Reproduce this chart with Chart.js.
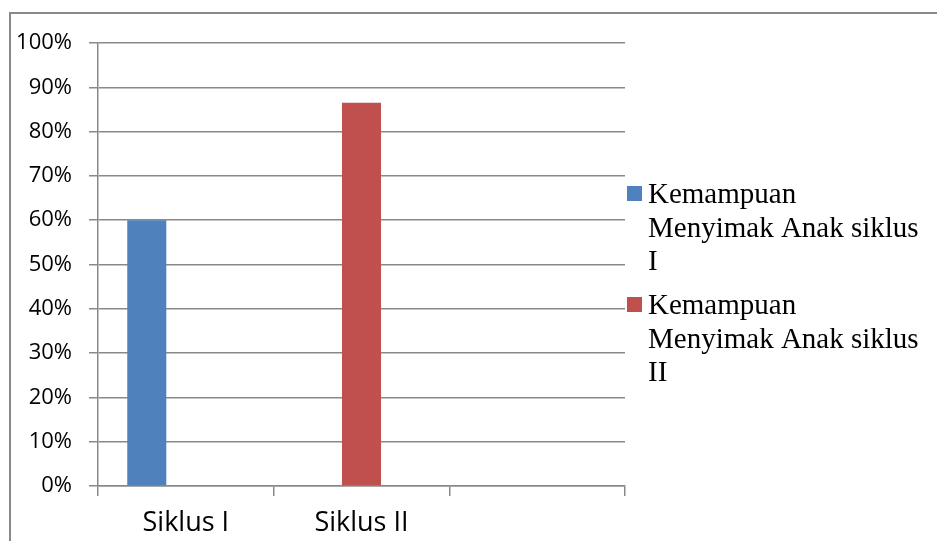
<!doctype html>
<html>
<head>
<meta charset="utf-8">
<script src="https://cdn.jsdelivr.net/npm/chart.js"></script>
<style>
body {
	margin: 0;
	background: #fff;
}
#wrap {
	width: 937px;
	height: 541px;
	position: relative;
}
</style>
</head>
<body>
<div id="wrap">
	<canvas id="myChart"></canvas>
</div>
<script>

	// data
	var categories = ['Siklus I', 'Siklus II', ''];
	var siklus1 = [0.60, null, null];
	var siklus2 = [null, 0.865, null];
	var series3 = [null, null, null];
	var legendLines = [
		['Kemampuan', 'Menyimak Anak siklus', 'I'],
		['Kemampuan', 'Menyimak Anak siklus', 'II']
	];
	var yTicks = [0, 0.1, 0.2, 0.3, 0.4, 0.5, 0.6, 0.7, 0.8, 0.9, 1];

	var gridColor = '#898989';

	// outer frame + wrapped legend on the right
	var frameLegend = {
		id: 'frameLegend',
		beforeDraw: function(chart) {
			var c = chart.ctx;
			c.save();
			c.fillStyle = '#fff';
			c.fillRect(0, 0, chart.width, chart.height);
			c.strokeStyle = gridColor;
			c.lineWidth = 2;
			c.strokeRect(10, 13, 960, 600);
			c.restore();
		},
		afterDraw: function(chart) {
			var c = chart.ctx;
			c.save();
			c.font = '29px "Liberation Serif", "Times New Roman", serif';
			c.textBaseline = 'alphabetic';
			var y = 203;
			for (var i = 0; i < legendLines.length; i++) {
				c.fillStyle = chart.data.datasets[i].backgroundColor;
				c.fillRect(627, y - 17, 15, 15);
				c.fillStyle = '#000';
				for (var j = 0; j < legendLines[i].length; j++) {
					c.fillText(legendLines[i][j], 648, y + j * 33.5);
				}
				y += 111;
			}
			c.restore();
		}
	};

	const ctx = new Chart(document.getElementById('myChart'), {
		type: 'bar',
		data: {
			labels: categories,
			datasets: [
				{
					label: legendLines[0].join(' '),
					backgroundColor: '#4F81BD',
					data: siklus1
				},
				{
					label: legendLines[1].join(' '),
					backgroundColor: '#C0504D',
					data: siklus2
				},
				{
					label: '',
					backgroundColor: '#9BBB59',
					data: series3
				}
			]
		},
		plugins: [frameLegend],
		options: {
			responsive: true,
			maintainAspectRatio: false,
			animation: false,
			categoryPercentage: 0.667,
			barPercentage: 1.0,
			layout: {
				padding: { left: 0, top: 43, right: 312, bottom: 0 }
			},
			plugins: {
				legend: { display: false },
				tooltip: { enabled: false }
			},
			scales: {
				x: {
					offset: true,
					grid: {
						offset: true,
						drawOnChartArea: false,
						drawTicks: true,
						tickLength: 10,
						color: gridColor,
						lineWidth: 1.5
					},
					border: { color: gridColor, width: 1.5 },
					ticks: {
						color: '#000',
						padding: 11,
						maxRotation: 0,
						font: { family: '"Open Sans", sans-serif', size: 27 }
					},
					afterFit: function(scale) { scale.height = 55; }
				},
				y: {
					min: 0,
					max: 1,
					afterBuildTicks: function(scale) {
						scale.ticks = yTicks.map(function(v) { return { value: v }; });
					},
					grid: {
						color: gridColor,
						lineWidth: 1.5,
						tickLength: 9
					},
					border: { color: gridColor, width: 1.5 },
					ticks: {
						color: '#000',
						padding: 17,
						font: { family: '"Open Sans", sans-serif', size: 22 },
						callback: function(v) { return Math.round(v * 100) + '%'; }
					},
					afterFit: function(scale) { scale.width = 98; }
				}
			}
		}
	});

</script>
</body>
</html>
